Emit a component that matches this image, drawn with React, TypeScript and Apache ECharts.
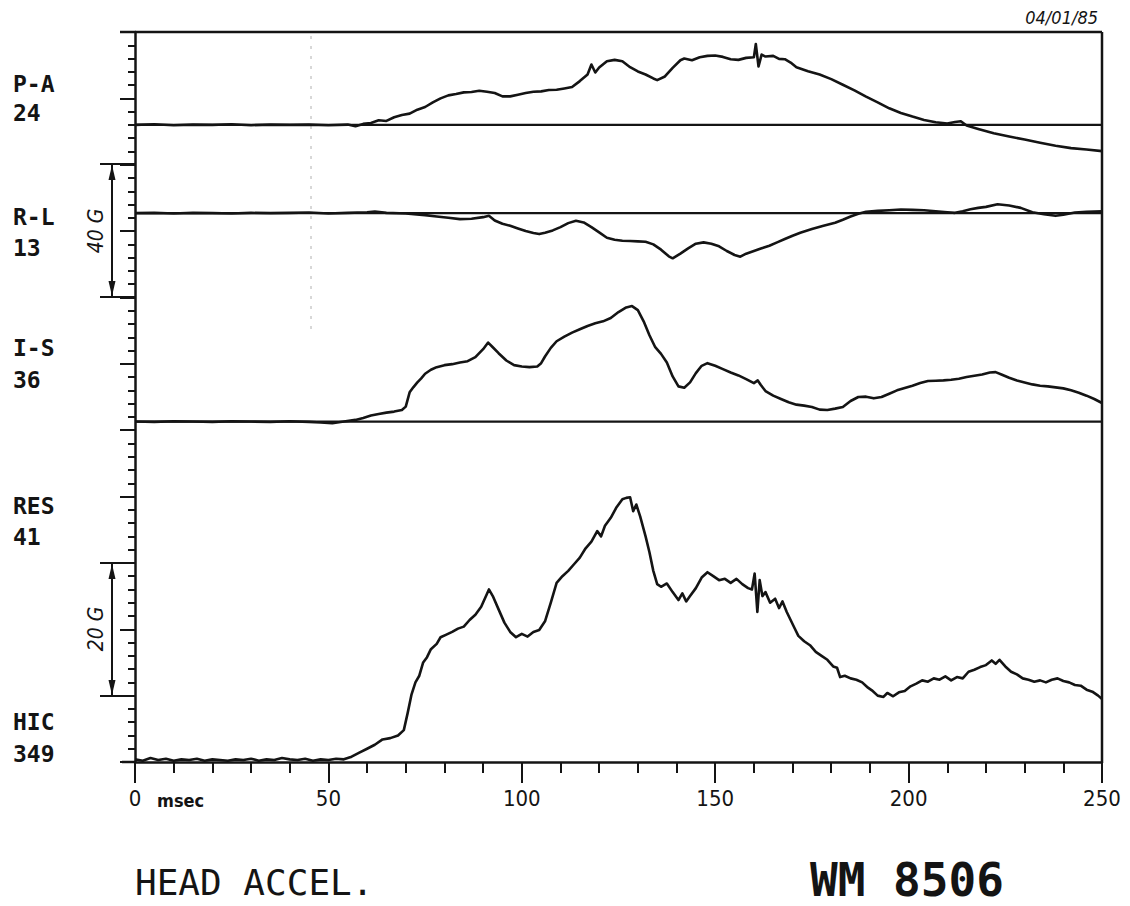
import React, { useEffect, useRef } from "react";
import * as echarts from "echarts";

// ---- data (time in msec, acceleration in G) ----
const paData: [number, number][] = [
  [0, 0], [5, 0.2], [10, -0.1], [15, 0.1], [20, 0], [25, 0.2], [30, -0.1], [35, 0.1], [40, 0], [45, 0.1],
  [50, -0.1], [55, 0.1], [57, -0.4], [59, 0.3], [61, 0.6], [63, 1.4], [65, 1.2], [67, 2.3], [69, 3.0], [71, 3.4],
  [73, 4.6], [75, 5.4], [77, 6.8], [79, 8.0], [81, 8.9], [83, 9.3], [85, 9.8], [87, 9.9], [89, 10.3], [91, 10.0],
  [93, 9.6], [95, 8.6], [97, 8.6], [99, 9.1], [101, 9.6], [103, 10.0], [105, 10.1], [107, 10.5], [109, 10.6], [111, 11.0],
  [113, 11.4], [115, 13.2], [117, 15.2], [118, 18.2], [119, 15.8], [120, 17.3], [122, 19.2], [124, 19.6], [126, 19.2], [128, 17.4],
  [130, 16.1], [132, 15.2], [134, 14.0], [135, 13.5], [137, 14.6], [139, 17.2], [141, 19.5], [142, 20.0], [144, 19.5], [146, 20.4],
  [148, 20.8], [150, 20.9], [152, 20.5], [154, 19.8], [156, 19.6], [158, 20.2], [160, 20.4], [160.5, 24.4], [161.2, 17.6], [162, 21.2],
  [163, 20.6], [165, 20.8], [166.5, 19.9], [168, 19.8], [169.5, 18.8], [171, 17.4], [174, 16.2], [177, 15.2], [180, 13.8], [183, 12.1],
  [186, 10.4], [189, 8.5], [192, 6.8], [195, 5.0], [198, 3.6], [201, 2.5], [204, 1.5], [207, 0.8], [210, 0.4], [212, 0.9],
  [213.5, 1.1], [215, -0.2], [218, -1.2], [222, -2.5], [226, -3.5], [230, -4.4], [234, -5.4], [238, -6.3], [242, -7.0], [246, -7.4],
  [250, -7.9],
];

const rlData: [number, number][] = [
  [0, 0], [5, 0.1], [10, -0.1], [15, 0.1], [20, 0], [25, -0.1], [30, 0.1], [35, 0], [40, 0.1], [45, 0.2],
  [50, -0.1], [55, 0.1], [60, 0.3], [62, 0.5], [65, 0.1], [70, -0.1], [75, -0.6], [78, -1.0], [81, -1.4], [84, -1.8],
  [87, -1.7], [90, -1.2], [91.5, -0.8], [93, -2.2], [95, -3.2], [97, -3.8], [99, -4.6], [101, -5.4], [103, -6.0], [104.5, -6.3],
  [106, -5.9], [108, -5.2], [110, -4.2], [112, -3.0], [114, -2.3], [116, -2.8], [118, -4.2], [120, -5.8], [122, -7.4], [124, -8.0],
  [126, -8.3], [128, -8.4], [130, -8.5], [132, -8.6], [134, -9.4], [136, -11.0], [138, -13.0], [139, -13.6], [141, -12.2], [143, -10.6],
  [145, -9.2], [147, -8.8], [149, -9.2], [151, -10.0], [153, -11.4], [155, -12.6], [156.5, -13.1], [158, -12.2], [160, -11.4], [162, -10.6],
  [164, -9.8], [166, -8.8], [168, -7.8], [170, -6.8], [172, -5.9], [175, -4.8], [178, -3.8], [181, -2.9], [183, -2.0], [185, -1.0],
  [187, -0.2], [189, 0.4], [192, 0.7], [195, 0.9], [198, 1.1], [201, 1.0], [204, 0.9], [207, 0.6], [210, 0.3], [212, 0.1],
  [214, 0.6], [216, 1.2], [218, 1.6], [220, 1.9], [223, 2.7], [226, 2.3], [229, 1.6], [232, 0.3], [235, -0.3], [238, -0.8],
  [240, -0.5], [243, 0.2], [246, 0.4], [250, 0.6],
];

const isData: [number, number][] = [
  [0, 0], [5, -0.1], [10, 0.1], [15, 0], [20, -0.1], [25, 0.1], [30, 0], [35, -0.1], [40, 0.1], [45, -0.1],
  [48, -0.3], [51, -0.5], [54, 0.0], [57, 0.5], [59, 1.1], [61, 1.8], [63, 2.3], [65, 2.7], [67, 3.0], [69, 3.5],
  [70, 4.5], [71, 8.8], [72, 10.4], [73, 11.8], [74, 13.0], [75, 14.4], [76.5, 15.6], [78, 16.4], [80, 17.0], [82, 17.3],
  [84, 17.8], [86, 18.2], [88, 19.4], [90, 21.8], [91.3, 23.8], [92.5, 22.4], [94, 20.6], [96, 18.4], [98, 17.0], [100, 16.6],
  [102, 16.4], [104, 16.6], [105, 17.6], [106, 19.6], [107.5, 22.2], [109, 24.2], [111, 25.6], [113, 26.8], [115, 27.8], [117, 28.8],
  [119, 29.6], [121, 30.2], [123, 31.2], [125, 33.0], [127, 34.4], [128.5, 34.8], [130, 33.6], [131.5, 30.2], [133, 26.0], [134.5, 22.4],
  [136, 20.4], [137.5, 17.8], [139, 13.6], [140.5, 10.6], [142, 10.2], [143.5, 11.8], [145, 14.6], [146.5, 16.8], [148, 17.6], [150, 16.8],
  [152, 15.8], [154, 14.8], [156, 13.9], [158, 12.8], [160, 11.6], [161, 12.4], [161.8, 11.0], [163, 9.2], [165, 7.8], [167, 6.8],
  [169, 5.8], [171, 5.1], [173, 4.8], [175, 4.4], [177, 3.6], [179, 3.5], [181, 3.9], [183, 4.4], [185, 6.2], [187, 7.4],
  [189, 7.5], [191, 7.0], [193, 7.4], [195, 8.4], [197, 9.4], [199, 10.1], [201, 10.8], [203, 11.6], [205, 12.2], [207, 12.3],
  [209, 12.4], [211, 12.6], [213, 12.9], [215, 13.4], [217, 13.8], [219, 14.2], [221, 14.8], [222.5, 14.9], [224, 14.2], [226, 13.2],
  [228, 12.4], [230, 11.8], [232, 11.2], [234, 10.8], [236, 10.6], [238, 10.3], [240, 10.0], [242, 9.4], [244, 8.7], [246, 7.8],
  [248, 6.8], [250, 5.6],
];

const resData: [number, number][] = [
  [0, 0.4], [2, 0.2], [4, 0.6], [6, 0.3], [8, 0.5], [10, 0.2], [12, 0.4], [14, 0.3], [16, 0.5], [18, 0.2],
  [20, 0.4], [22, 0.3], [24, 0.2], [26, 0.4], [28, 0.3], [30, 0.5], [32, 0.2], [34, 0.4], [36, 0.3], [38, 0.6],
  [40, 0.4], [42, 0.3], [44, 0.5], [46, 0.2], [48, 0.4], [50, 0.3], [52, 0.5], [54, 0.4], [56, 0.8], [58, 1.4],
  [60, 2.0], [62, 2.6], [64, 3.4], [66, 3.6], [68, 4.0], [69.5, 4.8], [70.5, 7.4], [71.5, 10.2], [72.5, 12.0], [73.5, 13.0],
  [74.5, 15.0], [75.5, 15.8], [76.5, 17.0], [78, 17.8], [79, 18.8], [80.5, 19.2], [82, 19.6], [83.5, 20.1], [85, 20.4], [86.5, 21.4],
  [88, 22.2], [89.5, 23.4], [91.5, 26.0], [92.5, 25.0], [94, 23.0], [95.5, 21.0], [97, 19.6], [98.5, 18.8], [100, 19.3], [101.5, 18.9],
  [103, 19.6], [104.5, 19.9], [106, 21.2], [107.5, 24.0], [109, 27.0], [110.5, 28.0], [112, 28.8], [113.5, 29.8], [115, 30.8], [116.5, 32.2],
  [118, 33.2], [119.5, 34.8], [120.5, 34.0], [121.5, 35.6], [123, 36.8], [124.5, 38.4], [126, 39.6], [127, 39.8], [128, 39.9], [128.8, 37.8],
  [129.6, 38.8], [130.6, 37.0], [132, 34.0], [133, 31.6], [134, 28.8], [135, 26.8], [136, 26.4], [137.5, 26.9], [139, 25.6], [140.5, 24.4],
  [141.5, 25.4], [142.5, 24.2], [143.5, 25.0], [145, 26.2], [146.5, 27.8], [148, 28.6], [149.5, 28.0], [151, 27.4], [152.5, 27.6], [154, 27.0],
  [155.5, 27.6], [157, 26.8], [158.5, 26.2], [159.5, 26.0], [160.2, 28.4], [160.9, 22.6], [161.5, 27.4], [162.2, 25.0], [163, 25.6], [164.2, 24.0],
  [165.5, 24.6], [166.5, 23.2], [167.4, 24.2], [168.5, 22.6], [169.5, 21.4], [170.5, 20.2], [171.5, 19.0], [173, 18.2], [174.5, 17.6], [176, 16.6],
  [177.5, 16.0], [179, 15.4], [180.5, 14.4], [181.5, 14.2], [182.3, 12.8], [183.5, 13.0], [185, 12.6], [186.5, 12.4], [188, 12.0], [189.5, 11.2],
  [190.5, 10.8], [192, 10.0], [193.5, 9.8], [194.5, 10.4], [196, 9.9], [197.5, 10.5], [199, 10.7], [200.5, 11.4], [202, 11.8], [203.5, 12.3],
  [205, 12.1], [206.5, 12.6], [208, 12.4], [209.5, 12.9], [211, 12.3], [212.5, 12.8], [214, 12.6], [215.5, 13.6], [217, 13.9], [218.5, 14.3],
  [220, 14.6], [221.5, 15.3], [222.5, 14.8], [223.5, 15.4], [225, 14.4], [226.5, 13.6], [228, 13.2], [229.5, 12.6], [231, 12.4], [232.5, 12.1],
  [234, 12.3], [235.5, 12.0], [237, 12.4], [238.5, 12.6], [240, 12.2], [241.5, 12.0], [243, 11.6], [244.5, 11.5], [246, 10.9], [247.5, 10.6],
  [249, 10.0], [250, 9.5],
];

const channelNames = ["P-A", "R-L", "I-S", "RES"];
const channelPeaks = ["24", "13", "36", "41"];
const hicValue = "349";
const xTicks = [0, 50, 100, 150, 200, 250];

// layout configuration (axis units: the y axis runs 0..110)
const channelBase = [96, 82.7, 51.3, 0];
const channelScale = [0.5, 0.5, 0.5, 1];
const channelData = [paData, rlData, isData, resData];

const INK = "#141414";
const MONO = "'DejaVu Sans Mono', monospace";
const COND = "'DejaVu Sans Condensed', 'DejaVu Sans', sans-serif";

const labelY = [[83.5, 112.5], [216.5, 248], [348, 380], [506, 537]];

function bracket(top: number, bottom: number, label: string, textY: number) {
  const x = 112;
  return [
    { type: "line", shape: { x1: 100, y1: top, x2: 135, y2: top }, style: { stroke: INK, lineWidth: 2 } },
    { type: "line", shape: { x1: 100, y1: bottom, x2: 135, y2: bottom }, style: { stroke: INK, lineWidth: 2 } },
    { type: "line", shape: { x1: x, y1: top, x2: x, y2: bottom }, style: { stroke: INK, lineWidth: 2 } },
    { type: "polygon", shape: { points: [[x, top + 1], [x - 3.5, top + 16], [x + 3.5, top + 16]] }, style: { fill: INK } },
    { type: "polygon", shape: { points: [[x, bottom - 1], [x - 3.5, bottom - 16], [x + 3.5, bottom - 16]] }, style: { fill: INK } },
    {
      type: "text",
      x: 96,
      y: textY,
      rotation: Math.PI / 2,
      style: {
        text: label,
        fill: INK,
        font: `italic 21px ${COND}`,
        align: "center",
        verticalAlign: "middle",
      },
    },
  ];
}

export default function App() {
  const ref = useRef<HTMLDivElement>(null);

  useEffect(() => {
    if (!ref.current) return;
    const chart = echarts.init(ref.current, undefined, { renderer: "svg" });

    const baselineSeries = channelBase.slice(0, 3).map((b, i) => ({
      type: "line",
      name: channelNames[i] + " baseline",
      data: [[0, b], [250, b]],
      symbol: "none",
      silent: true,
      lineStyle: { color: INK, width: 2.2 },
      z: 2,
    }));

    const traceSeries = channelData.map((d, i) => ({
      type: "line",
      name: channelNames[i],
      data: d.map(([t, g]) => [t, channelBase[i] + g * channelScale[i]]),
      symbol: "none",
      silent: true,
      lineStyle: { color: INK, width: 2.6, join: "round" },
      z: 3,
    }));

    const leftLabels: any[] = [];
    channelNames.forEach((n, i) => {
      leftLabels.push({
        type: "text", x: 13, y: labelY[i][0],
        style: { text: n, fill: INK, font: `bold 23px ${MONO}`, verticalAlign: "middle" },
      });
      leftLabels.push({
        type: "text", x: 13, y: labelY[i][1],
        style: { text: channelPeaks[i], fill: INK, font: `bold 23px ${MONO}`, verticalAlign: "middle" },
      });
    });
    leftLabels.push({
      type: "text", x: 13, y: 722,
      style: { text: "HIC", fill: INK, font: `bold 23px ${MONO}`, verticalAlign: "middle" },
    });
    leftLabels.push({
      type: "text", x: 13, y: 754,
      style: { text: hicValue, fill: INK, font: `bold 23px ${MONO}`, verticalAlign: "middle" },
    });

    chart.setOption({
      animation: false,
      backgroundColor: "#ffffff",
      grid: { left: 135, top: 32, width: 967, height: 730, containLabel: false },
      xAxis: {
        type: "value",
        min: 0,
        max: 250,
        interval: 50,
        axisLine: { lineStyle: { color: INK, width: 2.5 } },
        axisTick: { length: 21, lineStyle: { color: INK, width: 2 } },
        minorTick: { show: true, splitNumber: 5, length: 11, lineStyle: { color: INK, width: 2 } },
        splitLine: { show: false },
        minorSplitLine: { show: false },
        axisLabel: {
          color: INK,
          fontFamily: COND,
          fontSize: 22,
          margin: 25,
          formatter: (v: number) => (xTicks.includes(v) ? String(v) : ""),
        },
      },
      yAxis: {
        type: "value",
        min: 0,
        max: 110,
        interval: 10,
        axisLine: { show: true, lineStyle: { color: INK, width: 2.5 } },
        axisTick: { show: true, length: 15, lineStyle: { color: INK, width: 2 } },
        minorTick: { show: true, splitNumber: 5, length: 7, lineStyle: { color: INK, width: 2 } },
        splitLine: { show: false },
        axisLabel: { show: false },
      },
      series: [...baselineSeries, ...traceSeries],
      graphic: [
        // frame
        { type: "line", shape: { x1: 120, y1: 32, x2: 1102, y2: 32 }, style: { stroke: INK, lineWidth: 2.5 } },
        { type: "line", shape: { x1: 1102, y1: 32, x2: 1102, y2: 762 }, style: { stroke: INK, lineWidth: 2.5 } },
        { type: "line", shape: { x1: 122, y1: 762, x2: 135, y2: 762 }, style: { stroke: INK, lineWidth: 2.5 } },
        // faint scan artefact
        { type: "line", shape: { x1: 311, y1: 36, x2: 311, y2: 332 }, style: { stroke: "#b0b0b0", lineWidth: 1, lineDash: [3, 7] } },
        ...bracket(164, 297, "40 G", 231),
        ...bracket(563, 696, "20 G", 629),
        ...leftLabels,
        {
          type: "text", x: 157, y: 800,
          style: { text: "msec", fill: INK, font: `bold 18px ${COND}`, verticalAlign: "middle" },
        },
        {
          type: "text", x: 1098, y: 17,
          style: { text: "04/01/85", fill: INK, font: `italic 18px ${COND}`, align: "right", verticalAlign: "middle" },
        },
        {
          type: "text", x: 135, y: 882,
          style: { text: "HEAD ACCEL.", fill: INK, font: `36px ${MONO}`, verticalAlign: "middle" },
        },
        {
          type: "text", x: 810, y: 880,
          style: { text: "WM 8506", fill: INK, font: `bold 46px ${MONO}`, verticalAlign: "middle" },
        },
      ],
    });

    return () => chart.dispose();
  }, []);

  return (
    <div
      ref={ref}
      style={{ position: "fixed", left: 0, top: 0, width: 1130, height: 906, background: "#fff" }}
    />
  );
}
